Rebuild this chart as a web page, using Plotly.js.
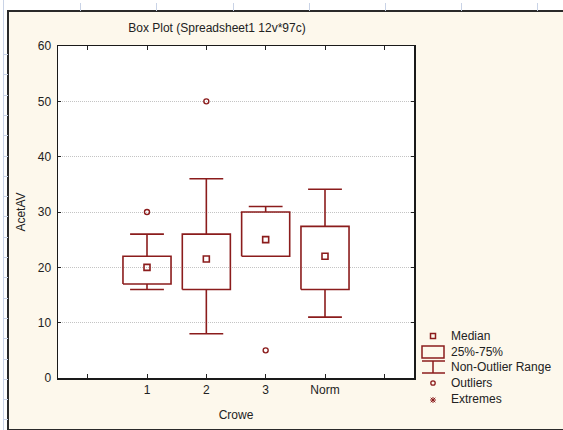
<!DOCTYPE html>
<html>
<head>
<meta charset="utf-8">
<script src="https://cdn.plot.ly/plotly-3.0.1.min.js"></script>
<style>
  html, body { margin: 0; padding: 0; background: #ffffff; }
  #page { position: relative; width: 563px; height: 430px; overflow: hidden; }
  #frame { position: absolute; left: 7px; top: 10px; width: 570px; height: 417px;
           background: #fdf8ec; border: 2px solid #2a2a2a; }
  .vt { position: absolute; top: 3px; width: 1px; height: 8px; background: #c9d3e6; }
  .ht { position: absolute; left: 3px; width: 5px; height: 1px; background: #c9d3e6; }
  #vline { position: absolute; left: 3px; top: 0; width: 1px; height: 430px; background: #c9d3e6; }
  #chart { position: absolute; left: 0; top: 0; width: 563px; height: 430px; }
</style>
</head>
<body>
<div id="page">
  <div id="vline"></div>
  <div id="frame"></div>
  <div id="chart"></div>
</div>
<script>
// Group labels and summary statistics of AcetAV per Crowe group
const categories = ['1', '2', '3', 'Norm'];
const q1 = [17, 16, 22, 16];
const median = [20, 21.5, 25, 22];
const q3 = [22, 26, 30, 27.4];
const lowerWhisker = [16, 8, 22, 11];
const upperWhisker = [26, 36, 31, 34.1];
const outlierGroup = ['1', '2', '3'];
const outlierValue = [30, 50, 5];
const yTicks = [0, 10, 20, 30, 40, 50, 60];

// spreadsheet cell marks around the graph window
const page = document.getElementById('page');
[80, 156, 233, 309, 385, 461, 537].forEach(function (x) {
  const d = document.createElement('div'); d.className = 'vt'; d.style.left = x + 'px'; page.appendChild(d);
});
for (let y = 54; y < 430; y += 20.3) {
  const d = document.createElement('div'); d.className = 'ht'; d.style.top = Math.round(y) + 'px'; page.appendChild(d);
}

const RED = '#8b1c1c';
const halfBox = 0.405;
const halfCap = 0.285;
const pos = c => categories.indexOf(c) + 1;

const boxX = [], boxY = [], whX = [], whY = [];
categories.forEach(function (c, i) {
  const x = pos(c);
  boxX.push(x - halfBox, x + halfBox, x + halfBox, x - halfBox, x - halfBox, null);
  boxY.push(q1[i], q1[i], q3[i], q3[i], q1[i], null);
  if (upperWhisker[i] > q3[i]) {
    whX.push(x, x, null, x - halfCap, x + halfCap, null);
    whY.push(q3[i], upperWhisker[i], null, upperWhisker[i], upperWhisker[i], null);
  }
  if (lowerWhisker[i] < q1[i]) {
    whX.push(x, x, null, x - halfCap, x + halfCap, null);
    whY.push(q1[i], lowerWhisker[i], null, lowerWhisker[i], lowerWhisker[i], null);
  }
});

const traces = [
  { x: boxX, y: boxY, mode: 'lines', line: { color: RED, width: 1.6 }, showlegend: false, hoverinfo: 'skip' },
  { x: whX, y: whY, mode: 'lines', line: { color: RED, width: 1.6 }, showlegend: false, hoverinfo: 'skip' },
  { x: categories.map(pos), y: median, mode: 'markers', showlegend: false,
    marker: { symbol: 'square-open', size: 6, color: RED, line: { width: 1.6, color: RED } } },
  { x: outlierGroup.map(pos), y: outlierValue, mode: 'markers', showlegend: false,
    marker: { symbol: 'circle-open', size: 5, color: RED, line: { width: 1.4, color: RED } } }
];

// plot area in pixels: left 58, right 414, top 46, bottom 378
const L = 58, R = 414, T = 46, B = 378;
const px = x => (x - L) / (R - L);
const py = y => (B - y) / (B - T);

const shapes = [];
const annotations = [];
const FONT = { family: 'Liberation Sans, Arial, sans-serif', size: 12, color: '#222222' };
const legendItems = ['Median', '25%-75%', 'Non-Outlier Range', 'Outliers', 'Extremes'];
const legendY = [336, 352, 367, 383, 399];
legendItems.forEach(function (t, i) {
  annotations.push({ text: t, xref: 'paper', yref: 'paper', x: px(449), y: py(legendY[i]),
    xanchor: 'left', yanchor: 'middle', showarrow: false, font: FONT });
});
const cx = 433;
const lineStyle = { color: RED, width: 1.5 };
// median glyph
shapes.push({ type: 'rect', xref: 'paper', yref: 'paper', x0: px(cx - 2.5), x1: px(cx + 2.5), y0: py(338.5), y1: py(333.5), line: lineStyle });
// box glyph
shapes.push({ type: 'rect', xref: 'paper', yref: 'paper', x0: px(422), x1: px(444), y0: py(358), y1: py(346), line: lineStyle });
// whisker glyph
shapes.push({ type: 'line', xref: 'paper', yref: 'paper', x0: px(422), x1: px(445), y0: py(361), y1: py(361), line: lineStyle });
shapes.push({ type: 'line', xref: 'paper', yref: 'paper', x0: px(422), x1: px(445), y0: py(373), y1: py(373), line: lineStyle });
shapes.push({ type: 'line', xref: 'paper', yref: 'paper', x0: px(cx), x1: px(cx), y0: py(361), y1: py(373), line: lineStyle });
// outlier glyph
shapes.push({ type: 'circle', xref: 'paper', yref: 'paper', x0: px(cx - 2.2), x1: px(cx + 2.2), y0: py(385.2), y1: py(380.8), line: { color: RED, width: 1.3 } });
// extremes glyph
[[-3, 0, 3, 0], [0, -3, 0, 3], [-2.3, -2.3, 2.3, 2.3], [-2.3, 2.3, 2.3, -2.3]].forEach(function (s) {
  shapes.push({ type: 'line', xref: 'paper', yref: 'paper', x0: px(cx + s[0]), x1: px(cx + s[2]),
    y0: py(400 + s[1]), y1: py(400 + s[3]), line: { color: RED, width: 1 } });
});

const layout = {
  width: 563, height: 430,
  paper_bgcolor: 'rgba(0,0,0,0)',
  plot_bgcolor: '#ffffff',
  margin: { l: L, r: 563 - R, t: T, b: 430 - B, pad: 0 },
  font: FONT,
  showlegend: false,
  title: { text: 'Box Plot (Spreadsheet1 12v*97c)', font: FONT,
    x: 217 / 563, xanchor: 'center', y: 1 - 28 / 430, yanchor: 'middle' },
  xaxis: {
    range: [-0.5, 5.5], tickvals: [0, 1, 2, 3, 4, 5], ticktext: [''].concat(categories, ['']),
    ticks: 'inside', ticklen: 4, tickcolor: '#222', tickwidth: 1,
    showline: true, linecolor: '#1a1a1a', linewidth: 1.5, mirror: 'ticks',
    showgrid: false, zeroline: false, fixedrange: true,
    tickfont: FONT,
    title: { text: 'Crowe', font: FONT, standoff: 14 }
  },
  yaxis: {
    range: [0, 60], tickvals: yTicks,
    ticks: 'inside', ticklen: 3, tickcolor: '#222', tickwidth: 1,
    showline: true, linecolor: '#1a1a1a', linewidth: 1.5, mirror: 'ticks',
    showgrid: true, gridcolor: '#c4c4c4', griddash: '1px,1px', gridwidth: 1,
    zeroline: false, fixedrange: true,
    tickfont: FONT, ticklabelstandoff: 3,
    title: { text: 'AcetAV', font: FONT, standoff: 9 }
  },
  shapes: shapes,
  annotations: annotations
};

Plotly.newPlot('chart', traces, layout, { displayModeBar: false, staticPlot: true });
</script>
</body>
</html>
